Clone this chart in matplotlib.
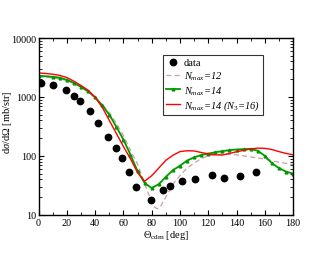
import numpy as np
import matplotlib
matplotlib.use("Agg")
import matplotlib.pyplot as plt
from matplotlib.ticker import MultipleLocator, LogLocator, NullFormatter

plt.rcParams['font.family'] = ['Liberation Serif', 'DejaVu Serif']
plt.rcParams['mathtext.fontset'] = 'custom'
plt.rcParams['mathtext.rm'] = 'Liberation Serif'
plt.rcParams['mathtext.it'] = 'Liberation Serif:italic'

# --- experimental data ---
data_theta = [1.9, 10.1, 19.1, 24.8, 29.6, 36.1, 42.0, 49.1, 54.8, 58.8, 63.8,
              69.2, 79.2, 87.7, 92.8, 101.6, 110.3, 122.6, 130.9, 142.2, 153.8]
data_xs = [1707, 1596, 1315, 1040, 850, 580, 366, 207, 135, 91, 54,
           29, 18, 26, 31, 37, 40, 48, 42, 46, 53]

# --- calculations ---
th_12 = [0, 10, 20, 25, 30, 35, 40, 45, 50, 55, 60, 65, 70, 75, 78, 80, 82, 84, 86, 88, 90,
         95, 100, 105, 110, 115, 120, 130, 140, 150, 160, 170, 180]
xs_12 = [2200, 2120, 1900, 1700, 1470, 1240, 990, 740, 540, 360, 221, 124, 72, 34, 22, 16.6, 13.5, 12.6, 13.5, 16.5, 20,
         33, 46, 62, 75, 90, 100, 108, 104, 96, 88, 78, 71]

th_14 = [0, 10, 15, 20, 25, 30, 35, 40, 45, 50, 55, 60, 65, 70, 75, 80, 85, 90, 95, 100, 105,
         110, 115, 120, 125, 130, 135, 140, 145, 150, 155, 160, 165, 170, 175, 180]
xs_14 = [2290, 2200, 2120, 1950, 1720, 1480, 1240, 980, 720, 500, 310, 189, 104, 55, 34.5, 28.4, 33, 44, 57, 68, 83,
         94, 103, 109, 115, 120, 125, 128, 130, 131, 122, 100, 75, 62, 54, 50]

th_14n3 = [0, 5, 10, 15, 20, 25, 30, 35, 40, 45, 50, 55, 60, 65, 70, 75, 80, 85, 90, 95, 100, 105,
           110, 115, 120, 125, 130, 135, 140, 150, 155, 160, 165, 170, 175, 180]
xs_14n3 = [2550, 2500, 2430, 2320, 2130, 1845, 1563, 1300, 985, 670, 400, 240, 144, 89, 52, 37, 46, 62, 84, 102, 118, 122,
           121, 114, 108, 104, 103, 110, 117, 131, 135, 134, 128, 118, 110, 104]

fig = plt.figure(figsize=(3.3, 2.55), dpi=100)
ax = fig.add_axes([0.117, 0.154, 0.771, 0.693])

ax.plot(data_theta, data_xs, 'o', color='black', ms=4.6, label='data', zorder=5)
ax.plot(th_12, xs_12, '--', color='#c8a0a0', lw=0.9, dashes=(4, 2.5),
        label=r'$\mathit{N_{max}}$=12')
ax.plot(th_14, xs_14, '-', color='#009900', lw=1.3, marker='^', ms=2.0,
        label=r'$\mathit{N_{max}}$=14')
ax.plot(th_14n3, xs_14n3, '-', color='#ff0000', lw=1.0,
        label=r'$\mathit{N_{max}}$=14 ($\mathit{N_3}$=16)')

ax.set_yscale('log')
ax.set_xlim(0, 180)
ax.set_ylim(10, 10000)
ax.xaxis.set_major_locator(MultipleLocator(20))
ax.xaxis.set_minor_locator(MultipleLocator(10))
ax.yaxis.set_minor_locator(LogLocator(base=10, subs=np.arange(2, 10)))
ax.yaxis.set_minor_formatter(NullFormatter())
ax.set_yticks([10, 100, 1000, 10000])
ax.set_yticklabels(['10', '100', '1000', '10000'])

ax.tick_params(which='both', direction='in', top=True, right=True, labelsize=7.3, pad=2)
ax.tick_params(which='major', length=3.5, width=0.8)
ax.tick_params(which='minor', length=2, width=0.6)
for s in ax.spines.values():
    s.set_linewidth(1.0)

ax.set_xlabel(r'$\Theta_{\rm cdm}$ [deg]', fontsize=7.5, labelpad=1)
ax.set_ylabel(r'd$\sigma$/d$\Omega$ [mb/str]', fontsize=7.5)
ax.yaxis.set_label_coords(-0.095, 0.53)

leg = ax.legend(loc='upper left', bbox_to_anchor=(0.489, 0.904), borderaxespad=0,
                prop={'style': 'italic', 'size': 7.5},
                handlelength=1.3, handletextpad=0.4, labelspacing=0.2,
                borderpad=0.3, frameon=True, fancybox=False)
leg.get_frame().set_edgecolor('black')
leg.get_frame().set_linewidth(0.8)
leg.get_texts()[0].set_fontstyle('normal')

fig.savefig('out.png', dpi=100)
